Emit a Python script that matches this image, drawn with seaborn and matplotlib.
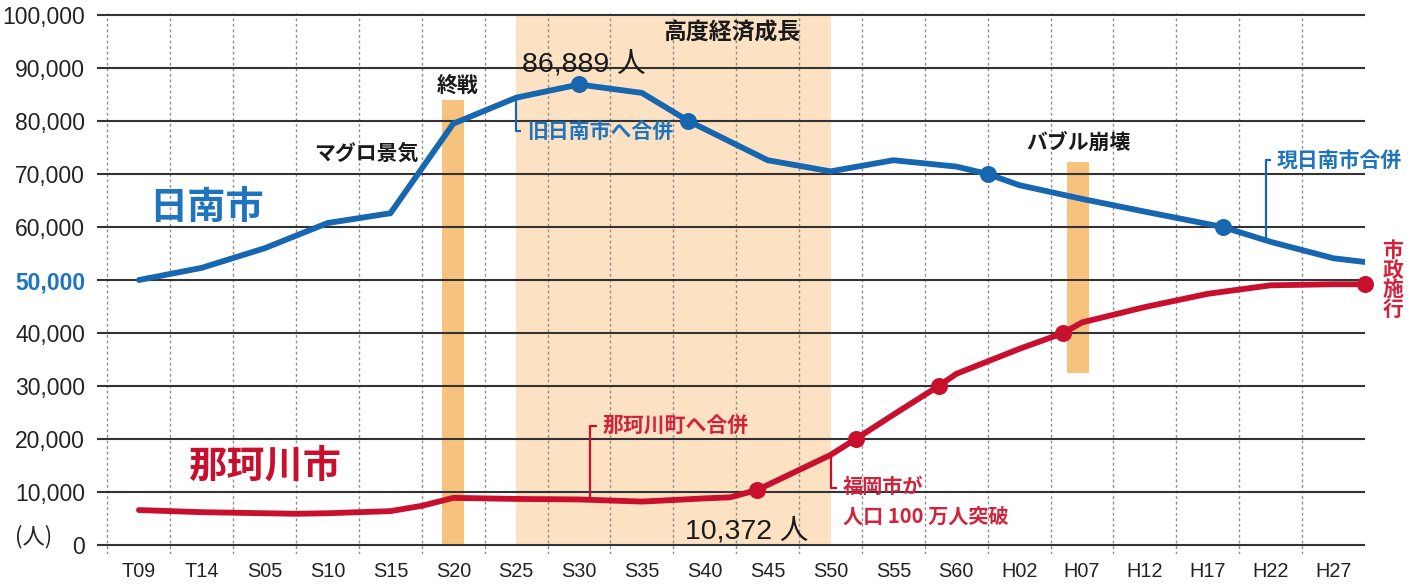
import numpy as np
import pandas as pd
import matplotlib
matplotlib.use("Agg")
import matplotlib.pyplot as plt
from matplotlib.ticker import FixedLocator, FuncFormatter
import seaborn as sns

# 日南市 人口推移（年, 人）
nichinan_year = [1920, 1925, 1930, 1935, 1940, 1945, 1950, 1955, 1960, 1963.7,
                 1970, 1975, 1980, 1985, 1987.5, 1990, 1995, 2000, 2006.2, 2010,
                 2015, 2017.5]
nichinan_pop = [50000, 52300, 56000, 60750, 62600, 79500, 84400, 86889, 85300, 80000,
                72600, 70500, 72600, 71400, 70000, 67900, 65300, 62900, 60000, 57200,
                54100, 53400]
nichinan_mark_year = [1955, 1963.7, 1987.5, 2006.2]
nichinan_mark_pop = [86889, 80000, 70000, 60000]

# 那珂川市 人口推移（年, 人）
nakagawa_year = [1920, 1925, 1930, 1932.5, 1935, 1940, 1942.5, 1945, 1950, 1955,
                 1960, 1965, 1967, 1969.15, 1975, 1977, 1980, 1983.6, 1985, 1990,
                 1993.5, 1995, 2000, 2005, 2010, 2015, 2017.5]
nakagawa_pop = [6600, 6200, 6000, 5900, 6000, 6400, 7400, 8900, 8700, 8600,
                8200, 8800, 9000, 10372, 17000, 20000, 24600, 30000, 32300, 37000,
                40000, 42000, 44900, 47400, 49000, 49200, 49200]
nakagawa_mark_year = [1969.15, 1977, 1983.6, 1993.5, 2017.5]
nakagawa_mark_pop = [10372, 20000, 30000, 40000, 49200]

# 軸ラベル
tick_years = list(range(1920, 2016, 5))
tick_labels = ["T09", "T14", "S05", "S10", "S15", "S20", "S25", "S30", "S35", "S40",
               "S45", "S50", "S55", "S60", "H02", "H07", "H12", "H17", "H22", "H27"]
y_ticks = list(range(0, 100001, 10000))

# 出来事の期間（開始年, 終了年, 下端, 上端）
events = {
    "終戦": (1944.1, 1945.85, 0, 84000),
    "高度経済成長": (1950, 1975, 0, 100000),
    "バブル崩壊": (1993.8, 1995.55, 32500, 72200),
}

BLUE = "#1766b0"
BLUE_TXT = "#1f74bd"
RED = "#c8102e"
RED_TXT = "#d2233d"
ORANGE = "#f6c27e"
PEACH = "#fce2c3"
JP = ["Noto Sans CJK JP"]
MIX = ["Liberation Sans", "Noto Sans CJK JP"]

sns.set_style("white")
plt.rcParams["font.family"] = MIX

df_n = pd.DataFrame({"year": nichinan_year, "pop": nichinan_pop})
df_k = pd.DataFrame({"year": nakagawa_year, "pop": nakagawa_pop})
df_nm = pd.DataFrame({"year": nichinan_mark_year, "pop": nichinan_mark_pop})
df_km = pd.DataFrame({"year": nakagawa_mark_year, "pop": nakagawa_mark_pop})

fig = plt.figure(figsize=(14.13, 5.85), dpi=100)
ax = fig.add_axes([0.0686, 0.0538, 0.8974, 0.9233])

# 期間の帯
for name, (x0, x1, y0, y1) in events.items():
    color = PEACH if name == "高度経済成長" else ORANGE
    ax.fill_between([x0, x1], y0, y1, color=color, lw=0, zorder=0)

sns.lineplot(data=df_n, x="year", y="pop", color=BLUE, lw=4.2, sort=False,
             ax=ax, zorder=4)
sns.lineplot(data=df_k, x="year", y="pop", color=RED, lw=4.2, sort=False,
             ax=ax, zorder=4)
sns.scatterplot(data=df_nm, x="year", y="pop", color=BLUE, s=150, linewidth=0,
                ax=ax, zorder=5, clip_on=False)
sns.scatterplot(data=df_km, x="year", y="pop", color=RED, s=150, linewidth=0,
                ax=ax, zorder=5, clip_on=False)

ax.set_xlim(1916.66, 2017.5)
ax.set_ylim(-1600, 100300)

ax.xaxis.set_major_locator(FixedLocator(tick_years))
ax.set_xticklabels(tick_labels)
ax.xaxis.set_minor_locator(FixedLocator(list(np.arange(1917.5, 2015.1, 2.5))))
ax.yaxis.set_major_locator(FixedLocator(y_ticks))
ax.yaxis.set_major_formatter(FuncFormatter(lambda v, p: f"{int(v):,}"))

ax.grid(False)
ax.grid(which="minor", axis="x", color="#8f8f8f", lw=1.0,
        linestyle=(0, (2, 2)), zorder=1)
ax.grid(which="major", axis="y", color="#333333", lw=1.5, zorder=2)
ax.set_axisbelow(False)
for sp in ax.spines.values():
    sp.set_visible(False)

ax.tick_params(axis="x", which="both", length=0, pad=6, labelsize=14.3,
               colors="#222222")
ax.tick_params(axis="y", which="both", length=0, pad=8.5, labelsize=16.5,
               colors="#222222")
ax.set_xlabel("")
ax.set_ylabel("")
for lab in ax.get_yticklabels():
    if lab.get_text() == "50,000":
        lab.set_color(BLUE_TXT)
        lab.set_fontweight("bold")

# 出来事の見出し
ax.text(1967.2, 96600, "高度経済成長", family=JP, weight="bold", fontsize=16.5,
        ha="center", va="center", color="#1a1a1a")
ax.text(1945.3, 86800, "終戦", family=JP, weight="bold", fontsize=15,
        ha="center", va="center", color="#1a1a1a")
ax.text(1938.06, 73870, "マグロ景気", family=JP, weight="bold", fontsize=15,
        ha="center", va="center", color="#1a1a1a")
ax.text(1994.7, 75940, "バブル崩壊", family=JP, weight="bold", fontsize=15,
        ha="center", va="center", color="#1a1a1a")

# 市名
ax.text(1925.4, 63680, "日南市", family=JP, weight="bold", fontsize=27.5,
        ha="center", va="center", color=BLUE_TXT)
ax.text(1930.0, 14900, "那珂川市", family=JP, weight="bold", fontsize=27.5,
        ha="center", va="center", color=RED)

# 最大・最小の値
ax.text(1950.5, 89245, f"{nichinan_pop[nichinan_year.index(1955)]:,} 人",
        family=MIX, fontsize=20.5, ha="left", va="baseline", color="#1a1a1a")
ax.text(1963.4, 1320, f"{nakagawa_pop[nakagawa_year.index(1969.15)]:,} 人",
        family=MIX, fontsize=20.5, ha="left", va="baseline", color="#1a1a1a")


# 引き出し線付きの注記
def leader(x, y_curve, y_text, tick, color):
    ax.plot([x, x, x + tick], [y_curve, y_text, y_text], color=color, lw=1.6,
            zorder=3, solid_capstyle="butt")


x1 = 1950.0
leader(x1, np.interp(x1, nichinan_year, nichinan_pop), 78100, 0.4, BLUE)
ax.text(1950.9, 78100, "旧日南市へ合併", family=JP, weight="bold", fontsize=15,
        ha="left", va="center", color=BLUE_TXT)

x2 = 2009.6
leader(x2, np.interp(x2, nichinan_year, nichinan_pop), 72600, 0.45, BLUE)
ax.text(2010.5, 72600, "現日南市合併", family=JP, weight="bold", fontsize=15,
        ha="left", va="center", color=BLUE_TXT)

x3 = 1955.9
leader(x3, np.interp(x3, nakagawa_year, nakagawa_pop), 22500, 0.5, RED)
ax.text(1956.9, 22400, "那珂川町へ合併", family=JP, weight="bold", fontsize=15,
        ha="left", va="center", color=RED_TXT)

x4 = 1975.0
leader(x4, np.interp(x4, nakagawa_year, nakagawa_pop), 10700, 0.5, RED)
ax.text(1976.0, 11000, "福岡市が", family=JP, weight="bold", fontsize=14.5,
        ha="left", va="center", color=RED_TXT)
ax.text(1976.0, 5500, "人口 100 万人突破", family=JP, weight="bold", fontsize=14.5,
        ha="left", va="center", color=RED_TXT)

ax.text(2019.7, 50000, "市\n政\n施\n行", family=JP, weight="bold", fontsize=15,
        ha="center", va="center", color=RED_TXT, linespacing=0.92, clip_on=False)

fig.text(15 / 1413, 1 - 537 / 585, "(人)", family=JP, fontsize=16,
         ha="left", va="center", color="#222222")

fig.savefig("out.png", dpi=100, facecolor="white")
